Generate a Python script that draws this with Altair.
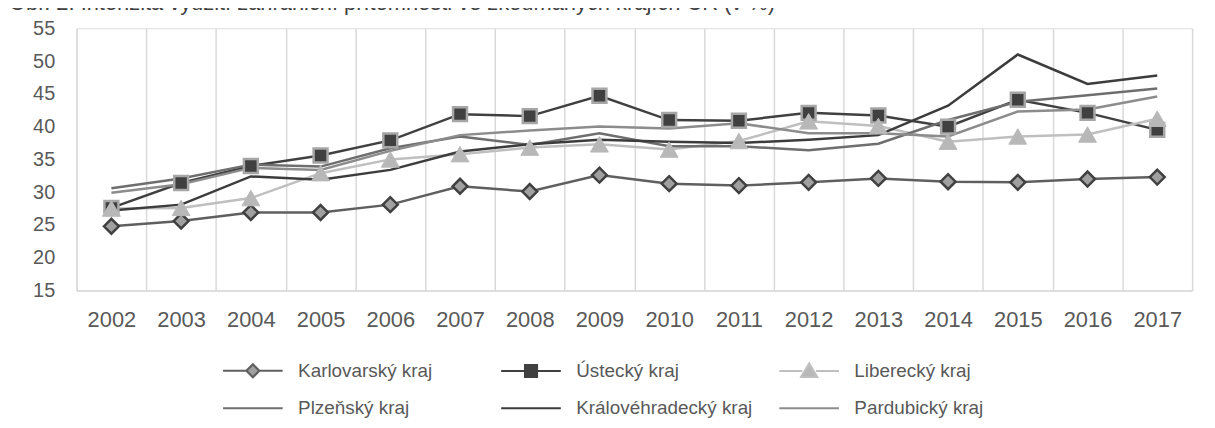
import altair as alt
import pandas as pd

years = ["2002", "2003", "2004", "2005", "2006", "2007", "2008", "2009",
         "2010", "2011", "2012", "2013", "2014", "2015", "2016", "2017"]

series_names = ["Karlovarský kraj", "Ústecký kraj", "Liberecký kraj",
                "Plzeňský kraj", "Královéhradecký kraj", "Pardubický kraj"]

karlovarsky = [24.8, 25.6, 26.9, 26.9, 28.1, 30.9, 30.1, 32.6, 31.3, 31.0, 31.5, 32.1, 31.6, 31.5, 32.0, 32.3]
ustecky = [27.6, 31.4, 34.0, 35.6, 37.9, 41.9, 41.6, 44.7, 41.0, 40.9, 42.1, 41.7, 40.0, 44.1, 42.1, 39.5]
liberecky = [27.5, 27.6, 29.1, 32.9, 35.0, 35.8, 36.8, 37.3, 36.5, 37.8, 40.8, 40.1, 37.7, 38.5, 38.8, 41.2]
plzensky = [30.6, 32.1, 34.2, 33.9, 36.7, 38.5, 37.2, 39.0, 37.0, 37.0, 36.4, 37.4, 41.0, 43.8, 44.8, 45.8]
kralovehradecky = [27.2, 28.1, 32.4, 31.9, 33.4, 36.2, 37.3, 38.0, 37.7, 37.5, 38.0, 38.7, 43.2, 51.0, 46.5, 47.8]
pardubicky = [29.9, 31.2, 33.7, 33.4, 36.3, 38.7, 39.4, 40.0, 39.7, 40.5, 39.0, 39.0, 38.5, 42.3, 42.6, 44.6]

y_ticks = [15, 20, 25, 30, 35, 40, 45, 50, 55]

all_values = [karlovarsky, ustecky, liberecky, plzensky, kralovehradecky, pardubicky]
rows = []
for name, vals in zip(series_names, all_values):
    for yr, v in zip(years, vals):
        rows.append({"year": yr, "series": name, "value": v})
df = pd.DataFrame(rows)

REG = "Liberation Sans, Arial, sans-serif"
TXT = "#595959"

x_enc = alt.X(
    "year:O", title=None, sort=years,
    scale=alt.Scale(type="band", paddingInner=0, paddingOuter=0),
    bandPosition=0.5,
    axis=alt.Axis(tickBand="extent", grid=True, gridColor="#d9d9d9", gridWidth=1.5,
                  domainColor="#d9d9d9", domainWidth=1.5, ticks=False, tickSize=0,
                  labelPadding=19, labelFont=REG, labelFontSize=22, labelColor=TXT,
                  labelAngle=0),
)
y_enc = alt.Y(
    "value:Q", title=None,
    scale=alt.Scale(domain=[15, 55], nice=False, zero=False),
    axis=alt.Axis(values=y_ticks, grid=False, domain=False, ticks=False,
                  labelPadding=22, labelFont=REG, labelFontSize=20, labelColor=TXT),
)

legend_paths = [
    "M -3 0 L -0.65 0 M 0.65 0 L 3 0 M 0 -0.65 L 0.65 0 L 0 0.65 L -0.65 0 Z",
    "M -3 0 L -0.6 0 M 0.6 0 L 3 0 M -0.6 -0.6 L 0.6 -0.6 L 0.6 0.6 L -0.6 0.6 Z",
    "M -3 0 L -0.7 0 M 0.7 0 L 3 0 M 0 -0.75 L 0.8 0.6 L -0.8 0.6 Z",
    "M -3 0 L 3 0",
    "M -3 0 L 3 0",
    "M -3 0 L 3 0",
]
legend_fills = ["#a0a0a0", "#404040", "#b8b8b8", "#6e6e6e", "#3c3c3c", "#8c8c8c"]
series_strokes = ["#5f5f5f", "#404040", "#bfbfbf", "#6e6e6e", "#3c3c3c", "#8c8c8c"]

leg = alt.Legend(
    orient="none", legendX=166, legendY=333, columns=3, direction="horizontal",
    title=None, labelFont=REG, labelFontSize=19, labelColor=TXT, labelOffset=34,
    labelLimit=400, symbolSize=400, symbolStrokeWidth=2.2, symbolOpacity=1,
    columnPadding=22, rowPadding=15, gridAlign="all", padding=0,
)

stroke_enc = alt.Stroke("series:N", scale=alt.Scale(domain=series_names, range=series_strokes), legend=leg)

base = alt.Chart(df)

lines = base.mark_line(strokeWidth=2.5).encode(
    x=x_enc, y=y_enc, stroke=stroke_enc,
)

pts_k = base.transform_filter(alt.datum.series == "Karlovarský kraj").mark_point(
    shape="diamond", filled=True, fill="#a0a0a0", stroke="#404040", strokeWidth=2.5,
    size=225, opacity=1).encode(x=x_enc, y=y_enc)
pts_u = base.transform_filter(alt.datum.series == "Ústecký kraj").mark_point(
    shape="square", filled=True, fill="#404040", stroke="#a6a6a6", strokeWidth=2.5,
    size=196, opacity=1).encode(x=x_enc, y=y_enc)
pts_l = base.transform_filter(alt.datum.series == "Liberecký kraj").mark_point(
    shape="triangle-up", filled=True, fill="#b8b8b8", stroke="#b8b8b8", strokeWidth=1,
    size=324, opacity=1).encode(x=x_enc, y=y_enc)

legend_layer = base.mark_point(
    filled=True, size=400, opacity=0, strokeWidth=2.2).encode(
    x=x_enc, y=y_enc,
    shape=alt.Shape("series:N", scale=alt.Scale(domain=series_names, range=legend_paths), legend=leg),
    fill=alt.Fill("series:N", scale=alt.Scale(domain=series_names, range=legend_fills), legend=leg),
    stroke=stroke_enc,
)

chart = alt.layer(lines, pts_k, pts_u, pts_l, legend_layer).properties(
    width=1123, height=264,
    padding={"left": 69, "top": 19, "right": 15, "bottom": 137},
    autosize=alt.AutoSizeParams(type="none"),
    title=alt.TitleParams(
        text="Obr. 2: Intenzita využití zahraniční přítomnosti ve zkoumaných krajích ČR (v %)",
        anchor="start", frame="group", dx=-68, offset=3, fontSize=22, font=REG,
        fontWeight="normal", color="#404040"),
).configure_view(strokeWidth=0).configure(background="white")

chart.save("out.html", embed_options={"renderer": "svg", "actions": False})
